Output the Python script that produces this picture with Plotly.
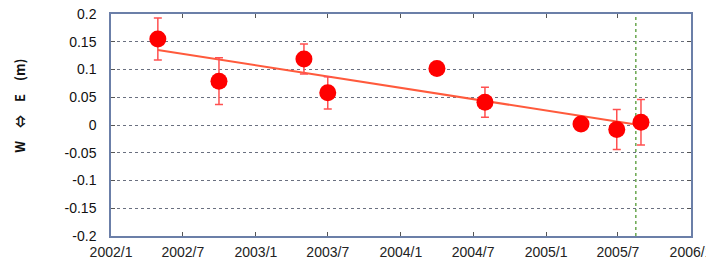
import plotly.graph_objects as go

dates = ["2002-04-29", "2002-09-30", "2003-05-02", "2003-07-01", "2004-04-01",
         "2004-07-31", "2005-03-30", "2005-06-28", "2005-08-28"]
values = [0.155, 0.079, 0.119, 0.058, 0.102, 0.041, 0.002, -0.008, 0.005]
errors = [0.038, 0.042, 0.027, 0.029, 0.004, 0.027, 0.003, 0.036, 0.041]

trend_dates = ["2002-04-29", "2005-08-15"]
trend_vals = [0.135, 0.001]

marker_date = "2005-08-15"

xtick_vals = ["2002-01-01", "2002-07-01", "2003-01-01", "2003-07-01", "2004-01-01",
              "2004-07-01", "2005-01-01", "2005-07-01", "2006-01-01"]
xtick_text = ["2002/1", "2002/7", "2003/1", "2003/7", "2004/1",
              "2004/7", "2005/1", "2005/7", "2006/1"]
ytick_vals = [0.2, 0.15, 0.1, 0.05, 0, -0.05, -0.1, -0.15, -0.2]
ytick_text = ["0.2", "0.15", "0.1", "0.05", "0", "-0.05", "-0.1", "-0.15", "-0.2"]

y_title = "W　⇔　E　(m)"

fig = go.Figure()
fig.add_trace(go.Scatter(
    x=[marker_date, marker_date], y=[-0.2, 0.2], mode="lines",
    line=dict(color="#6aa84f", width=1.5, dash="dot"), showlegend=False))
fig.add_trace(go.Scatter(
    x=trend_dates, y=trend_vals, mode="lines",
    line=dict(color="#ff5a3c", width=2), showlegend=False))
fig.add_trace(go.Scatter(
    x=dates, y=values, mode="markers",
    marker=dict(color="#ff0000", size=17),
    error_y=dict(type="data", array=errors, visible=True, color="#ff5050",
                 thickness=1.5, width=4),
    showlegend=False))

fig.add_annotation(
    text="<b>" + y_title + "</b>", textangle=-90, showarrow=False,
    xref="paper", yref="paper", x=-0.157, y=0.586,
    xanchor="center", yanchor="middle",
    font=dict(family="Noto Sans CJK JP, sans-serif", size=13, color="#111"))

fig.update_layout(
    width=706, height=249,
    margin=dict(l=103, r=23, t=6, b=21, autoexpand=False),
    paper_bgcolor="white", plot_bgcolor="white",
    font=dict(family="Liberation Sans, Arial, sans-serif", color="#222"),
    xaxis=dict(type="date", range=["2002-01-01", "2006-01-01"],
               tickvals=xtick_vals, ticktext=xtick_text, automargin=False,
               showgrid=False, zeroline=False, ticklabeloverflow="allow",
               showline=True, linecolor="#6b7fa8", linewidth=1.5, mirror="ticks",
               ticks="inside", ticklen=4, tickcolor="#555",
               ticklabelstandoff=2,
               tickfont=dict(size=14, color="#222")),
    yaxis=dict(range=[-0.2, 0.2], tickvals=ytick_vals, ticktext=ytick_text,
               automargin=False, ticklabeloverflow="allow",
               showgrid=True, gridcolor="#6a7080", griddash="dot", gridwidth=1,
               zeroline=False,
               showline=True, linecolor="#6b7fa8", linewidth=1.5, mirror="ticks",
               ticks="inside", ticklen=4, tickcolor="#555",
               ticklabelstandoff=10,
               tickfont=dict(size=14, color="#111")),
)

fig.write_html("out.html")
